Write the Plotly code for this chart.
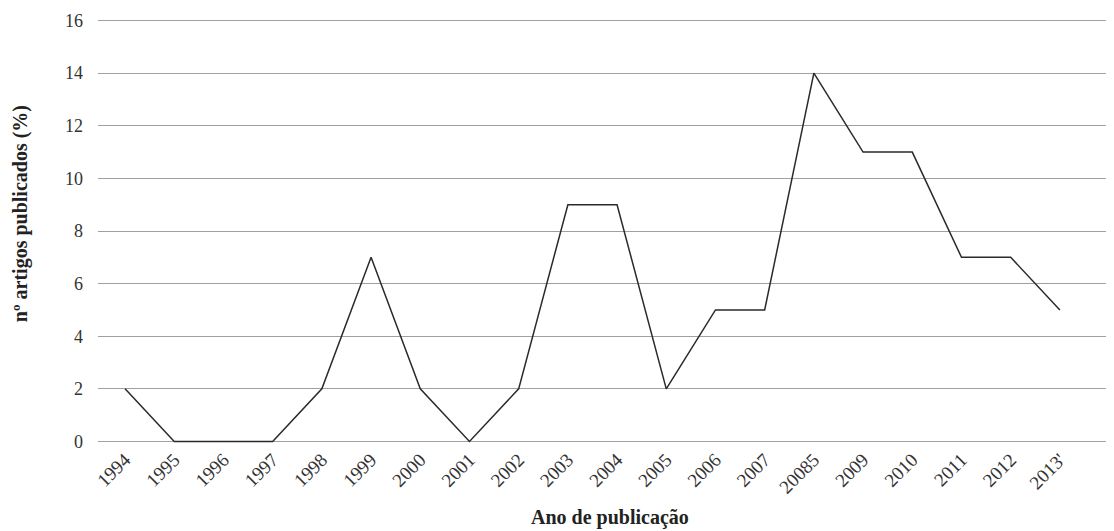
import plotly.graph_objects as go

years = ["1994", "1995", "1996", "1997", "1998", "1999", "2000", "2001", "2002", "2003",
         "2004", "2005", "2006", "2007", "20085", "2009", "2010", "2011", "2012", "2013'"]
values = [2, 0, 0, 0, 2, 7, 2, 0, 2, 9, 9, 2, 5, 5, 14, 11, 11, 7, 7, 5]
y_ticks = [0, 2, 4, 6, 8, 10, 12, 14, 16]

serif = "Liberation Serif, DejaVu Serif, serif"

fig = go.Figure()
fig.add_trace(go.Scatter(
    x=list(range(len(years))), y=values, mode="lines",
    line=dict(color="#2a2a2a", width=1.5), showlegend=False,
))

fig.update_layout(
    width=1106, height=523,
    margin=dict(l=90, r=0, t=6, b=83),
    paper_bgcolor="white", plot_bgcolor="white",
    font=dict(family=serif, color="#333333"),
    xaxis=dict(
        range=[-0.55, 20.1], automargin=False,
        tickmode="array", tickvals=list(range(len(years))), ticktext=years,
        tickangle=-45, tickfont=dict(size=19, family=serif, color="#333333"),
        showgrid=False, zeroline=False, showline=False, ticks="",
        ticklabelstandoff=-4,
    ),
    yaxis=dict(
        range=[-0.25, 16.25], automargin=False,
        tickmode="array", tickvals=y_ticks,
        tickfont=dict(size=18, family=serif, color="#333333"),
        showgrid=True, gridcolor="#a0a0a0", gridwidth=1.2,
        zeroline=False, showline=False, ticks="", ticklabelstandoff=14,
    ),
    annotations=[
        dict(text="<b>Ano de publicação</b>", xref="paper", yref="paper",
             x=0.504, y=-0.161, xanchor="center", yanchor="middle", showarrow=False,
             font=dict(size=20, family=serif, color="#222222")),
        dict(text="<b>nº artigos publicados (%)</b>", xref="paper", yref="paper",
             x=-0.0768, y=0.541, xanchor="center", yanchor="middle", showarrow=False,
             textangle=-90, font=dict(size=20, family=serif, color="#222222")),
    ],
)

fig.write_html("out.html")
